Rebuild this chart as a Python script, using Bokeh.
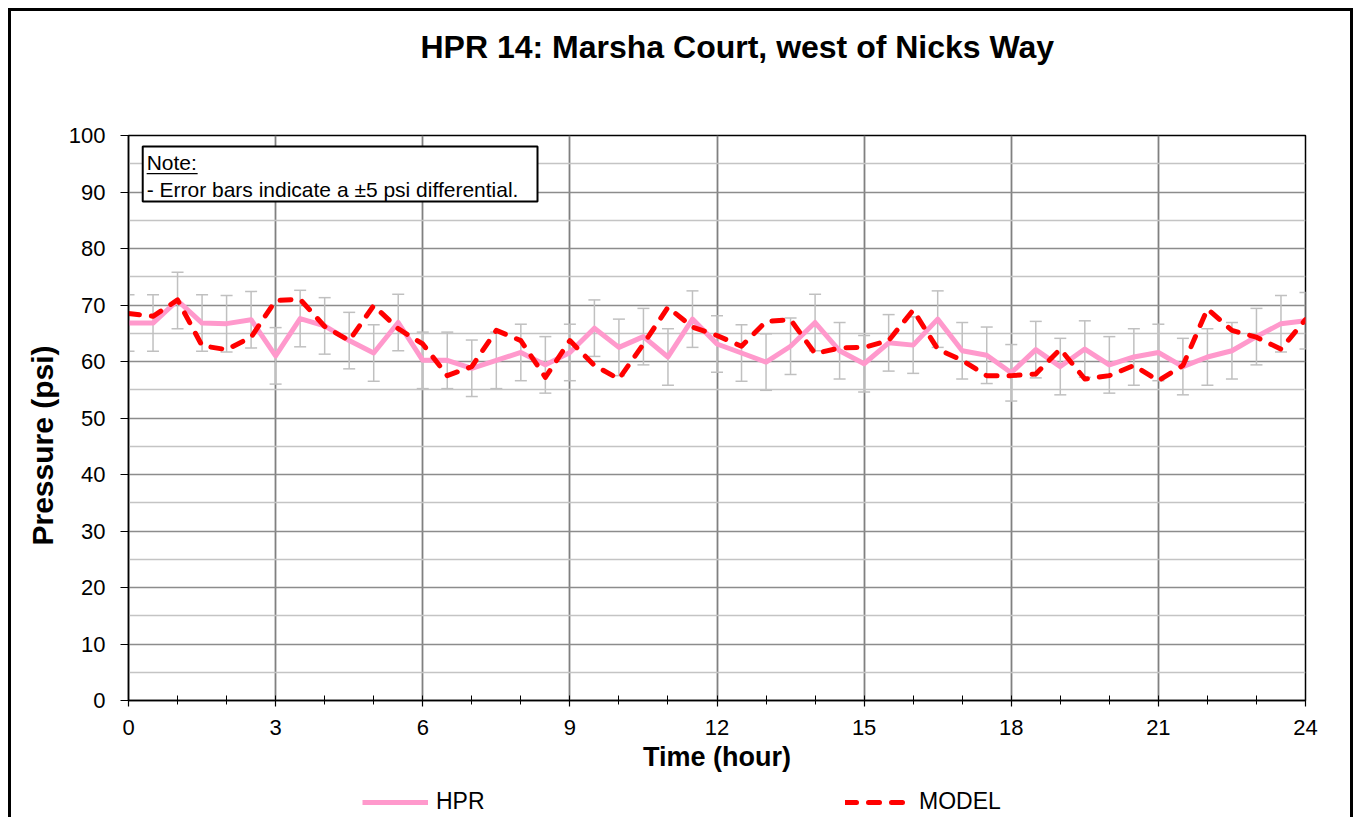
from bokeh.plotting import figure
from bokeh.layouts import column
from bokeh.models import (FixedTicker, Whisker, ColumnDataSource, Legend, LegendItem,
                          Label, BoxAnnotation, TeeHead, Range1d, Title)
from bokeh.embed import file_html
from bokeh.resources import INLINE

FONT = "Liberation Sans"

title_text = "HPR 14: Marsha Court, west of Nicks Way"
x_label = "Time (hour)"
y_label = "Pressure (psi)"
note_title = "Note:"
note_text = "- Error bars indicate a \u00b15 psi differential."
series_names = ["HPR", "MODEL"]
err = 5

hours = [0, 0.5, 1, 1.5, 2, 2.5, 3, 3.5, 4, 4.5, 5, 5.5, 6, 6.5, 7, 7.5, 8, 8.5,
         9, 9.5, 10, 10.5, 11, 11.5, 12, 12.5, 13, 13.5, 14, 14.5, 15, 15.5, 16,
         16.5, 17, 17.5, 18, 18.5, 19, 19.5, 20, 20.5, 21, 21.5, 22, 22.5, 23,
         23.5, 24]

hpr = [66.8, 66.8, 70.8, 66.8, 66.7, 67.4, 61.0, 67.6, 66.3, 63.7, 61.5, 66.9,
       60.2, 60.2, 58.8, 60.2, 61.6, 59.4, 61.6, 65.9, 62.5, 64.4, 60.8, 67.5,
       63.1, 61.5, 59.9, 62.7, 66.9, 61.9, 59.6, 63.3, 62.9, 67.5, 61.9, 61.1,
       58.0, 62.1, 59.1, 62.2, 59.4, 60.8, 61.6, 59.1, 60.8, 61.9, 64.4, 66.7,
       67.2]

model = [68.5, 68.0, 70.9, 62.8, 62.1, 64.3, 70.8, 71.0, 66.2, 63.7, 69.9, 65.8,
         63.1, 57.5, 59.1, 65.5, 63.7, 57.2, 63.7, 59.3, 56.9, 63.1, 69.6, 66.1,
         64.6, 62.7, 67.1, 67.4, 61.4, 62.4, 62.5, 63.7, 69.1, 62.2, 60.2, 57.5,
         57.5, 57.8, 62.2, 56.9, 57.5, 59.3, 56.6, 59.3, 69.3, 65.5, 64.3, 62.2,
         67.4]

x_major = [0, 3, 6, 9, 12, 15, 18, 21, 24]
x_minor = list(range(0, 25))
y_major = [0, 10, 20, 30, 40, 50, 60, 70, 80, 90, 100]
y_minor = [5, 15, 25, 35, 45, 55, 65, 75, 85, 95]

HPR_STYLE = dict(line_color="#FF99CC", line_width=5, line_join="round")
MODEL_STYLE = dict(line_color="#FF0000", line_width=5, line_dash="11 12",
                   line_cap="round", line_join="round")

src = ColumnDataSource(dict(
    x=hours, hpr=hpr, model=model,
    upper=[v + err for v in hpr], lower=[v - err for v in hpr]))

p = figure(width=1339, height=775, x_range=Range1d(0, 24), y_range=Range1d(0, 100),
           output_backend="svg", toolbar_location=None, title=None,
           min_border_left=117, min_border_right=45, min_border_top=124,
           min_border_bottom=86)
p.outline_line_color = "black"
p.outline_line_width = 1.5
p.background_fill_color = "white"
p.border_fill_color = "white"

# axes
p.xaxis.ticker = FixedTicker(ticks=x_major, minor_ticks=x_minor)
p.yaxis.ticker = FixedTicker(ticks=y_major, minor_ticks=y_minor)
for ax in (p.xaxis, p.yaxis):
    ax.axis_line_color = "black"
    ax.axis_line_width = 1.5
    ax.major_tick_line_color = "black"
    ax.major_tick_line_width = 1.2
    ax.minor_tick_line_color = "black"
    ax.major_label_text_font = FONT
    ax.major_label_text_font_size = "22px"
    ax.major_label_text_color = "black"
    ax.axis_label_text_font = FONT
    ax.axis_label_text_font_style = "bold"
    ax.axis_label_text_color = "black"
p.xaxis.major_tick_out = 6
p.xaxis.major_tick_in = 0
p.xaxis.minor_tick_in = 5
p.xaxis.minor_tick_out = 4
p.xaxis.major_label_standoff = 13
p.xaxis.axis_label = x_label
p.xaxis.axis_label_text_font_size = "27px"
p.xaxis.axis_label_standoff = 4

p.yaxis.major_tick_out = 8
p.yaxis.major_tick_in = 0
p.yaxis.minor_tick_line_color = None
p.yaxis.major_label_standoff = 15

# y-axis title as a side title, placed lower like in the reference
p.add_layout(Title(text=y_label, align="left", offset=155, standoff=14,
                   vertical_align="bottom", text_font=FONT, text_font_size="30px",
                   text_font_style="bold", text_color="black"), "left")

# grids
p.xgrid.grid_line_color = "#808080"
p.xgrid.grid_line_width = 1.8
p.ygrid.grid_line_color = "#8c8c8c"
p.ygrid.grid_line_width = 1.5
p.ygrid.minor_grid_line_color = "#c4c4c4"
p.ygrid.minor_grid_line_width = 1.5

# error bars
w = Whisker(base="x", upper="upper", lower="lower", source=src,
            line_color="#c0c0c0", line_width=1.5,
            upper_head=TeeHead(size=12, line_color="#c0c0c0", line_width=1.5),
            lower_head=TeeHead(size=12, line_color="#c0c0c0", line_width=1.5))
p.add_layout(w)

p.line("x", "hpr", source=src, **HPR_STYLE)
p.line("x", "model", source=src, **MODEL_STYLE)

# title: spacer first (closest to the frame), then the title above it
p.add_layout(Title(text=" ", text_font_size="1px", standoff=68), "above")
p.add_layout(Title(text=title_text, align="left", offset=292, standoff=0,
                   vertical_align="bottom", text_font=FONT, text_font_size="32px",
                   text_font_style="bold", text_color="black"), "above")

# note box
p.add_layout(BoxAnnotation(left=0.29, right=8.34, top=98.05, bottom=88.3,
                           fill_color="white", fill_alpha=1.0,
                           line_color="black", line_alpha=1.0, line_width=2))
p.add_layout(Label(x=0.37, y=95.2, text=note_title, text_baseline="alphabetic",
                   text_font=FONT, text_font_size="21px", text_color="black"))
p.add_layout(BoxAnnotation(left=0.37, right=1.41, top=93.35, bottom=93.15,
                           fill_color="black", fill_alpha=1.0, line_color=None))
p.add_layout(Label(x=0.37, y=90.4, text=note_text, text_baseline="alphabetic",
                   text_font=FONT, text_font_size="21px", text_color="black"))

# legend strip under the chart: same series, kept out of view by its ranges
pl = figure(width=1339, height=31, x_range=Range1d(0, 1), y_range=Range1d(0, 1),
            output_backend="svg", toolbar_location=None, title=None,
            x_axis_type=None, y_axis_type=None,
            min_border_left=0, min_border_right=0, min_border_top=0,
            min_border_bottom=0)
pl.grid.visible = False
pl.outline_line_color = None
pl.background_fill_color = "white"
pl.border_fill_color = "white"
lr1 = pl.line("x", "hpr", source=src, **HPR_STYLE)
lr2 = pl.line("x", "model", source=src, **MODEL_STYLE)
legend = Legend(items=[LegendItem(label=series_names[0], renderers=[lr1]),
                       LegendItem(label=series_names[1], renderers=[lr2])],
                orientation="horizontal", location=(234, 2),
                glyph_width=66, glyph_height=20, label_standoff=8, spacing=257,
                label_width=152, padding=0, margin=0, border_line_color=None,
                background_fill_alpha=0, label_text_font=FONT,
                label_text_font_size="23px", label_text_color="black")
pl.add_layout(legend, "center")

layout = column(p, pl, spacing=0)
layout.styles = {"margin-left": "11px", "margin-top": "11px",
                 "outline": "3px solid black"}

open("out.html", "w").write(file_html(layout, INLINE))
